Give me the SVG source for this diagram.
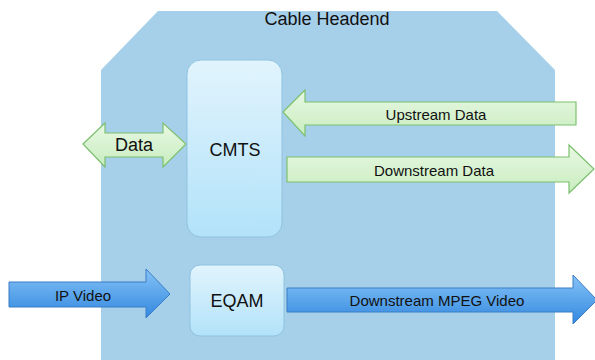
<svg xmlns="http://www.w3.org/2000/svg" width="595" height="360" viewBox="0 0 595 360">
<defs>
<linearGradient id="boxg" x1="0" y1="0" x2="0" y2="1">
<stop offset="0" stop-color="#e1f4fd"/>
<stop offset="1" stop-color="#b2e2f9"/>
</linearGradient>
<linearGradient id="greeng" x1="0" y1="0" x2="0" y2="1">
<stop offset="0" stop-color="#e8f8e3"/>
<stop offset="1" stop-color="#c8edbf"/>
</linearGradient>
<linearGradient id="blueg" x1="0" y1="0" x2="0" y2="1">
<stop offset="0" stop-color="#86c3f6"/>
<stop offset="1" stop-color="#3288e0"/>
</linearGradient>
</defs>
<style>
text{font-family:"Liberation Sans",Arial,sans-serif;fill:#111;text-anchor:middle;dominant-baseline:central}
.box{fill:url(#boxg);stroke:#8fc3e0;stroke-width:1}
.g{fill:url(#greeng);stroke:#7cc06f;stroke-width:1.2}
.b{fill:url(#blueg);stroke:#3a7cc6;stroke-width:1}
.lbl{font-size:15px}
.node{font-size:18px}
</style>
<g id="headend">
<polygon points="158,11 497,11 555,70 555,360 101,360 101,70" fill="#a6cfe9"/>
<text x="327" y="19" style="font-size:18px">Cable Headend</text>
</g>
<g id="connectors">
<g id="data">
<polygon class="g" points="83,144 105,123 105,133 163,133 163,123 186,144 163,167 163,157 105,157 105,167"/>
<text x="134" y="145" style="font-size:18px">Data</text>
</g>
<g id="upstream">
<polygon class="g" points="283,112 305,90 305,102 576,102 576,125 305,125 305,136"/>
<text class="lbl" x="436" y="114">Upstream Data</text>
</g>
<g id="downstream">
<polygon class="g" points="287,157 569,157 569,145 594,169 569,193 569,182 287,182"/>
<text class="lbl" x="434" y="170">Downstream Data</text>
</g>
<g id="ipvideo">
<polygon class="b" points="9,282 146,282 146,269 170,294 146,318 146,307 9,307"/>
<text class="lbl" x="83" y="295">IP Video</text>
</g>
<g id="mpeg">
<polygon class="b" points="287,288 573,288 573,275 597,300 573,324 573,312 287,312"/>
<text class="lbl" x="437" y="300">Downstream MPEG Video</text>
</g>
</g>
<g id="cmts">
<rect class="box" x="187" y="60" width="95" height="177" rx="14"/>
<text class="node" x="235" y="150">CMTS</text>
</g>
<g id="eqam">
<rect class="box" x="190" y="265" width="94" height="71" rx="10"/>
<text class="node" x="237" y="301">EQAM</text>
</g>
</svg>
